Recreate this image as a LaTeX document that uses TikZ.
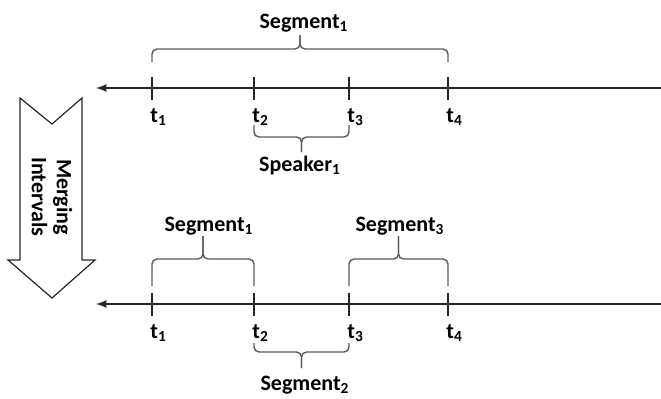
\documentclass[tikz,border=0pt]{standalone}
\usepackage{fontspec}
\setmainfont{Carlito}
\usepackage{tikz}
\usetikzlibrary{arrows, calc, positioning}
\tikzset{
    timeAxis/.style={->, >=latex, line width=0.8pt, draw=black!85},
    tickMark/.style={line width=0.8pt, draw=black!85},
    braceLine/.style={line width=0.7pt, draw=black!65, rounded corners=2.5pt},
    mergeArrow/.style={draw=black!85, line width=0.6pt, fill=white},
    tickLabel/.style={anchor=base west, inner sep=0pt, font=\bfseries\fontsize{11}{13}\selectfont},
    segLabel/.style={anchor=base, inner sep=0pt, font=\bfseries\fontsize{11}{13}\selectfont},
}
\newcommand{\drawBrace}[4]{
    \draw[braceLine] (#1) -- ++(0,#3) -- ($(#1)!0.5!(#2)+(0,#3)$) -- ($(#1)!0.5!(#2)+(0,#4)$);
    \draw[braceLine] (#2) -- ++(0,#3) -- ($(#1)!0.5!(#2)+(0,#3)$) -- ($(#1)!0.5!(#2)+(0,#4)$);
}
\newcommand{\drawAxis}[2]{
    \coordinate (#1L) at (96,#2);
    \coordinate (#1R) at (661,#2);
    \draw[timeAxis] (#1R) -- (#1L);
    \foreach \x [count=\i] in {152,254,349,448} {
        \coordinate (#1\i) at (\x,#2);
        \draw[tickMark] ($(#1\i)+(0,-11)$) -- ($(#1\i)+(0,12)$);
        \node[tickLabel] (#1t\i) at ($(#1\i)+(-2,34)$) {t\textsubscript{\i}};
    }
}

\begin{document}
\begin{tikzpicture}[x=0.5pt, y=-0.5pt]
        \useasboundingbox (0,0) rectangle (661,398);

        % before merging
        \drawAxis{u}{88}
        \coordinate (segTopL) at ($(u1)+(0,-26)$);
        \coordinate (segTopR) at ($(u4)+(0,-26)$);
        \drawBrace{segTopL}{segTopR}{-13}{-27}
        \node[segLabel] (segTop) at (304,28) {Segment\textsubscript{1}};

        \coordinate (spkL) at ($(u2)+(0,37)$);
        \coordinate (spkR) at ($(u3)+(0,37)$);
        \drawBrace{spkL}{spkR}{12}{27}
        \node[segLabel] (spk) at (300,171) {Speaker\textsubscript{1}};

        % merging arrow
        \draw[mergeArrow] (20,98) -- (52,124) -- (82,98) -- (82,260) -- (95,260)
            -- (52,298) -- (8,260) -- (20,260) -- cycle;
        \node[rotate=-90, align=center, inner sep=0pt, font=\bfseries\fontsize{11}{12.5}\selectfont] (merge) at (52,197) {Merging\\Intervals};

        % after merging
        \drawAxis{d}{304}
        \coordinate (segAL) at ($(d1)+(0,-18)$);
        \coordinate (segAR) at ($(d2)+(0,-18)$);
        \drawBrace{segAL}{segAR}{-27}{-50}
        \node[segLabel] (segA) at (209,231) {Segment\textsubscript{1}};

        \coordinate (segCL) at ($(d3)+(0,-18)$);
        \coordinate (segCR) at ($(d4)+(0,-18)$);
        \drawBrace{segCL}{segCR}{-27}{-50}
        \node[segLabel] (segC) at (400,231) {Segment\textsubscript{3}};

        \coordinate (segBL) at ($(d2)+(0,39)$);
        \coordinate (segBR) at ($(d3)+(0,39)$);
        \drawBrace{segBL}{segBR}{9}{25}
        \node[segLabel] (segB) at (305,390) {Segment\textsubscript{2}};

    \end{tikzpicture}
\end{document}
